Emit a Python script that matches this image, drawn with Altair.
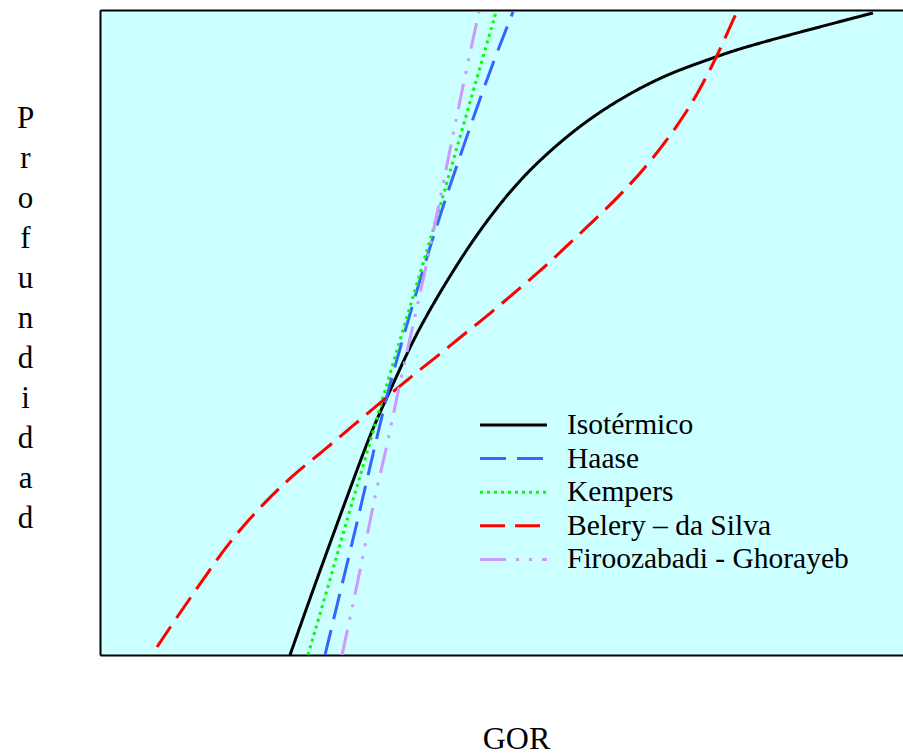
import altair as alt
import pandas as pd

# Series names, colours and dash styles
names = ["Isotérmico", "Haase", "Kempers", "Belery – da Silva", "Firoozabadi - Ghorayeb"]
colors = ["#000000", "#3366FF", "#00FF00", "#FF0000", "#CC99FF"]
dashes = [[1, 0], [26, 11], [3, 4], [25, 10], [26, 10, 3, 10, 3, 10]]

# GOR (0-100, arbitrary units) and Profundidad (0 top - 100 bottom)
iso_gor = [23.66, 27.27, 32.0, 34.0, 36.74, 38.98, 41.97, 44.83, 47.32, 51.43, 55.67,
           60.65, 66.0, 70.98, 76.34, 79.45, 87.17, 96.26]
iso_prof = [100, 87.29, 71.32, 64.65, 57.36, 51.16, 44.50, 38.76, 34.11, 27.44, 22.17,
            17.05, 12.87, 9.77, 7.44, 6.05, 3.41, 0.47]

haase_gor = [28.02, 29.89, 32.00, 33.62, 35.49, 36.49, 38.98, 41.84, 44.96, 48.57, 51.43]
haase_prof = [100, 90.39, 79.53, 70.85, 60.93, 56.28, 45.43, 33.64, 22.17, 9.30, 0.31]

kemp_gor = [25.90, 28.64, 31.01, 33.25, 35.87, 39.35, 42.34, 45.08, 47.70, 49.32]
kemp_prof = [100, 88.37, 77.98, 68.68, 57.36, 42.95, 30.54, 18.60, 7.29, 0.31]

bel_gor = [7.10, 9.59, 12.20, 14.94, 17.68, 20.80, 24.03, 27.65, 31.13, 34.87, 38.23, 41.72,
           45.21, 48.82, 52.30, 55.67, 58.90, 62.27, 65.63, 68.49, 71.36, 73.85, 75.97,
           77.46, 78.83, 79.33]
bel_prof = [98.76, 94.11, 89.46, 84.50, 80.16, 75.97, 72.09, 68.53, 64.81, 60.93, 57.36,
            53.95, 50.39, 46.82, 43.10, 39.53, 35.66, 31.78, 27.60, 23.57, 18.91, 14.26,
            9.30, 5.43, 1.55, 0.31]

firoo_gor = [30.14, 32.50, 34.37, 35.74, 37.11, 39.73, 42.34, 45.33, 47.20]
firoo_prof = [100, 86.36, 74.42, 67.75, 58.91, 44.96, 29.46, 10.85, 0.31]

series = [
    (names[0], iso_gor, iso_prof),
    (names[1], haase_gor, haase_prof),
    (names[2], kemp_gor, kemp_prof),
    (names[3], bel_gor, bel_prof),
    (names[4], firoo_gor, firoo_prof),
]
rows = []
for name, gs, ps in series:
    for i, (g, p) in enumerate(zip(gs, ps)):
        rows.append({"serie": name, "gor": g, "prof": p, "ord": i})
df = pd.DataFrame(rows)

FONT = "Liberation Serif"

legend = alt.Legend(
    title=None,
    orient="none",
    legendX=396.5,
    legendY=398,
    padding=0,
    rowPadding=1.6,
    symbolType="M-2.16,0H2.16",
    symbolSize=961,
    symbolStrokeWidth=3,
    labelFont=FONT,
    labelFontSize=29.5,
    labelColor="black",
    labelOffset=36.5,
    labelLimit=400,
)

xscale = alt.Scale(domain=[0, 100], nice=False, zero=False)
yscale = alt.Scale(domain=[0, 100], nice=False, reverse=True)

yaxis = alt.Axis(title=list("Profundidad"), labels=False, ticks=False, grid=False,
                 domain=True, domainColor="black", domainWidth=2,
                 titleAngle=0, titleLineHeight=40, titleX=-75, titleY=108,
                 titleAlign="center", titleBaseline="middle", titleFontSize=31)

lines = alt.Chart(df).mark_line(strokeWidth=3, interpolate="basis", clip=True).encode(
    x=alt.X("gor:Q", scale=xscale,
            axis=alt.Axis(orient="bottom", title="GOR", labels=False, ticks=False, grid=False,
                          domain=True, domainColor="black", domainWidth=2,
                          titleX=416, titleY=83, titleAlign="center", titleBaseline="middle",
                          titleFontSize=32)),
    y=alt.Y("prof:Q", scale=yscale, axis=yaxis),
    color=alt.Color("serie:N", scale=alt.Scale(domain=names, range=colors), legend=legend),
    strokeDash=alt.StrokeDash("serie:N", scale=alt.Scale(domain=names, range=dashes), legend=legend),
    order=alt.Order("ord:Q"),
)

top = alt.Chart(df).mark_line(opacity=0).encode(
    x=alt.X("gor:Q", scale=xscale,
            axis=alt.Axis(orient="top", title=None, labels=False, ticks=False, grid=False,
                          domain=True, domainColor="black", domainWidth=2)),
    y=alt.Y("prof:Q", scale=yscale, axis=yaxis),
    detail="serie:N",
)

chart = alt.layer(lines, top).resolve_axis(x="independent").properties(
    width=803,
    height=645,
    autosize=alt.AutoSizeParams(type="none"),
    padding={"left": 100, "top": 10, "right": 0, "bottom": 100},
    background="white",
).configure_view(
    fill="#CCFFFF",
    strokeWidth=0,
).configure_axis(
    titleFont=FONT,
    titleFontWeight="normal",
    titleColor="black",
)

chart.save("out.html", embed_options={"renderer": "svg", "actions": False})
